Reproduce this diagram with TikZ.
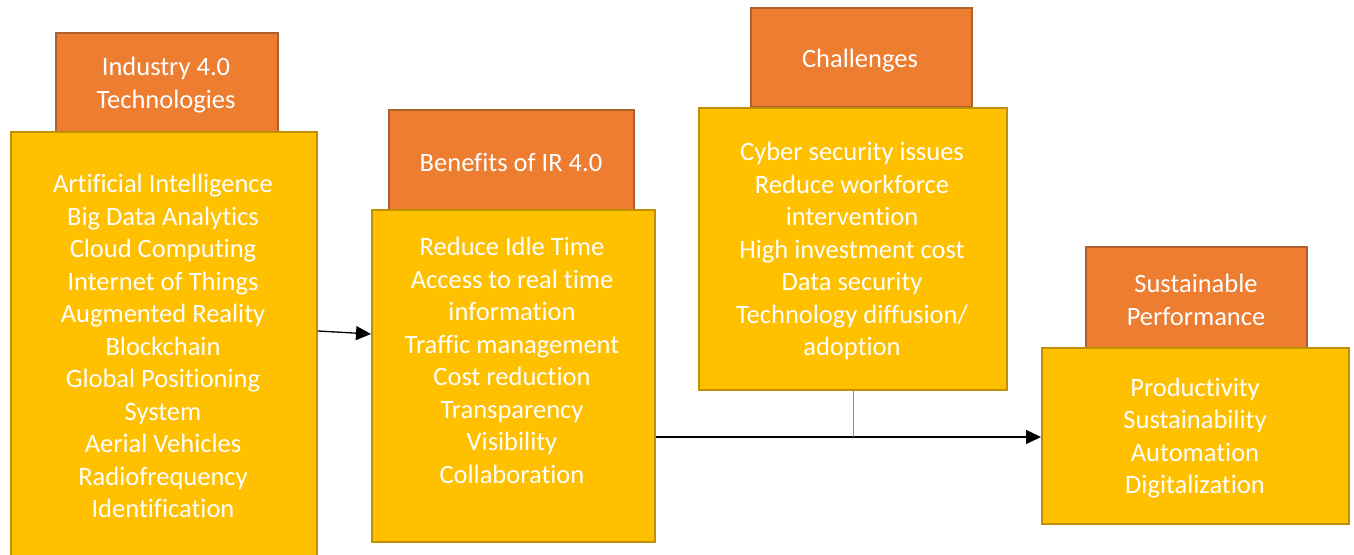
\documentclass[tikz,border=0pt]{standalone}
\usepackage{fontspec}
\setmainfont{Carlito}[Ligatures=NoCommon]
\usetikzlibrary{arrows.meta}
\definecolor{hdrfill}{HTML}{ED7D31}
\definecolor{hdrline}{HTML}{B0602A}
\definecolor{bodyfill}{HTML}{FFC000}
\definecolor{bodyline}{HTML}{BF9000}
\definecolor{linkblue}{HTML}{5B9BD5}
\tikzset{
  header/.style={draw=hdrline, fill=hdrfill, line width=2pt, anchor=north west, inner sep=0pt},
  body/.style={draw=bodyline, fill=bodyfill, line width=2pt, anchor=north west, inner sep=0pt},
  label/.style={text=white, align=center, inner sep=0pt,
    font=\fontsize{26.5}{32.5}\selectfont},
  flow/.style={line width=1.3pt, -{Triangle[length=15pt,width=14pt]}},
}
\begin{document}
\begin{tikzpicture}[x=1pt,y=-1pt]
\useasboundingbox (0,0) rectangle (1354,554);

% headers sit on top of their boxes
\node[header, minimum width=222pt, minimum height=99pt] (h1) at (55,32) {};
\node[body, minimum width=306pt, minimum height=440pt] (b1) at (10,131) {};
\node[header, minimum width=245pt, minimum height=100pt] (h2) at (388,109) {};
\node[body, minimum width=283pt, minimum height=332pt] (b2) at (371,209) {};
\node[header, minimum width=221pt, minimum height=99pt] (h3) at (750,7) {};
\node[body, minimum width=308pt, minimum height=282pt] (b3) at (698,107) {};
\node[header, minimum width=221pt, minimum height=101pt] (h4) at (1085,246) {};
\node[body, minimum width=307pt, minimum height=176pt] (b4) at (1041,347) {};

% texts
\node[label] (t1) at (166,85) {Industry 4.0\\Technologies};
\node[label] (t2) at (511,162) {Benefits of IR 4.0};
\node[label] (t3) at (860,60.5) {Challenges};
\node[label] (t4) at (1196,300) {Sustainable\\Performance};

\node[label] (l1) at (163,346) {Artificial Intelligence\\Big Data Analytics\\Cloud Computing\\Internet of Things\\Augmented Reality\\Blockchain\\Global Positioning\\System\\Aerial Vehicles\\Radiofrequency\\Identification};
\node[label] (l2) at (512,360.5) {Reduce Idle Time\\Access to real time\\information\\Traffic management\\Cost reduction\\Transparency\\Visibility\\Collaboration};
\node[label] (l3) at (852,251) {Cyber security issues\\Reduce workforce\\intervention\\High investment cost\\Data security\\Technology diffusion/\\adoption};
\node[label] (l4) at (1195,438) {Productivity\\Sustainability\\Automation\\Digitalization};

% connectors
\draw[flow] ([yshift=-200pt]b1.north east) -- ([yshift=-125pt]b2.north west);
\coordinate (m) at ([yshift=-228pt]b2.north east);
\draw[flow] (m) -- (m -| b4.west);
\draw[linkblue, line width=1pt] (b3.south) -- (b3.south |- m);
\end{tikzpicture}
\end{document}
